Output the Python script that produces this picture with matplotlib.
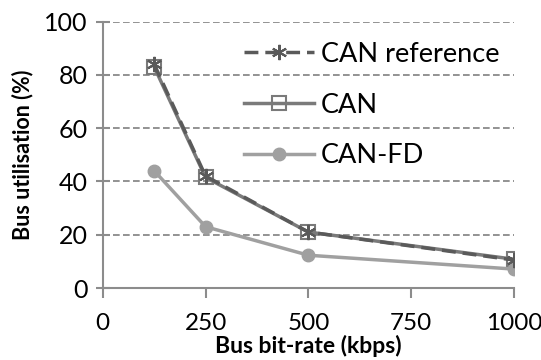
import matplotlib
matplotlib.use("Agg")
import matplotlib.pyplot as plt

# data
bitrate = [125, 250, 500, 1000]
can_ref = [84, 42, 21, 10.5]
can = [83, 41.5, 21, 10.8]
can_fd = [44, 23, 12.3, 7.1]

plt.rcParams["font.family"] = ["Lato", "DejaVu Sans"]

fig = plt.figure(figsize=(5.41, 3.6), dpi=100)
ax = fig.add_axes([0.19, 0.2, 0.76, 0.74])

ax.plot(bitrate, can_ref, color="#5a5a5a", linestyle=(0, (4, 2)), linewidth=2.5,
        marker=(6, 2, 0), markersize=11, markeredgewidth=1.5, label="CAN reference", zorder=4)
ax.plot(bitrate, can, color="#7a7a7a", linewidth=2.5, marker="s", markersize=10,
        markerfacecolor="none", markeredgewidth=1.5, label="CAN", zorder=3)
ax.plot(bitrate, can_fd, color="#a0a0a0", linewidth=2.5, marker="o", markersize=9,
        label="CAN-FD", zorder=3)

ax.set_xlim(0, 1000)
ax.set_ylim(0, 100)
ax.set_xticks([0, 250, 500, 750, 1000])
ax.set_yticks([0, 20, 40, 60, 80, 100])
ax.yaxis.grid(True, linestyle=(0, (4, 2)), color="#808080", linewidth=1.2)
ax.set_axisbelow(True)

for side in ["top", "right"]:
    ax.spines[side].set_visible(False)
for side in ["left", "bottom"]:
    ax.spines[side].set_color("#8c8c8c")
    ax.spines[side].set_linewidth(1.5)

ax.tick_params(axis="y", direction="inout", length=10, width=1.5, color="#8c8c8c",
               labelsize=18, pad=6)
ax.tick_params(axis="x", direction="out", length=7, width=1.5, color="#8c8c8c",
               labelsize=17.5, pad=11)

ax.set_xlabel("Bus bit-rate (kbps)", fontsize=16.5, fontweight="bold", labelpad=1)
ax.set_ylabel("Bus utilisation (%)", fontsize=15.5, fontweight="bold", labelpad=8)

ax.legend(loc="upper left", bbox_to_anchor=(0.31, 0.975), frameon=False, fontsize=19.5,
          borderpad=0, handlelength=2.6, handletextpad=0.25, labelspacing=0.95)

fig.savefig("out.png", dpi=100)
